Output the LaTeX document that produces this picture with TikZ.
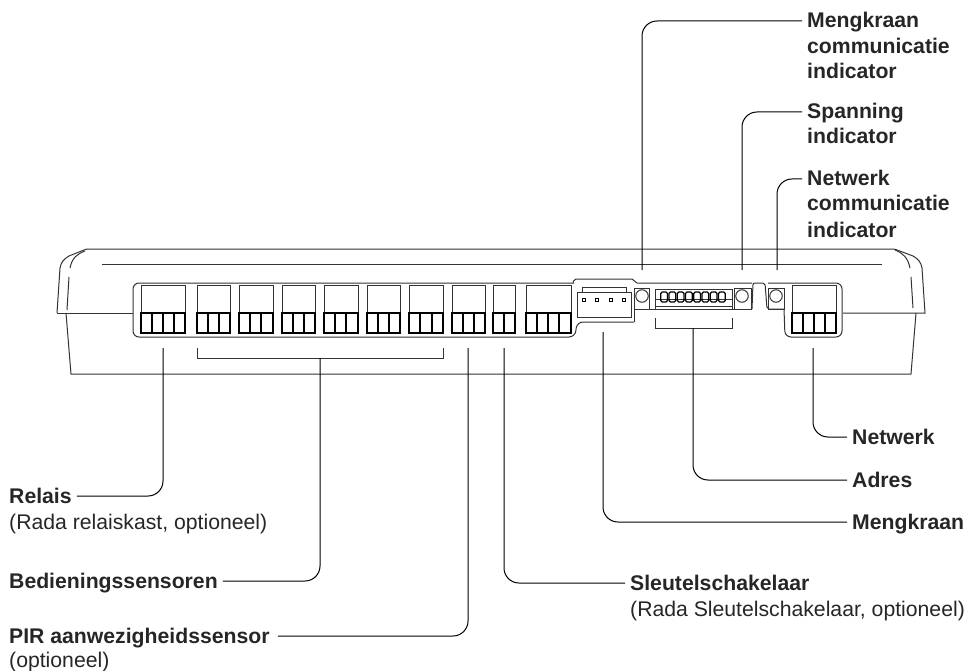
\documentclass[tikz,border=0pt]{standalone}
\usepackage{fontspec}
\setmainfont{Liberation Sans}
\usetikzlibrary{positioning}
\usetikzlibrary{calc}
\tikzstyle{part}=[black!80,line width=1pt]
\tikzstyle{term}=[black,line width=1.1pt]
\tikzstyle{taro}=[black,line width=1pt,rounded corners=15pt]
\tikzstyle{ledc}=[black!80,draw=black!80,line width=1pt,shape=circle,inner sep=0pt,minimum size=12.5pt]
\tikzstyle{dip}=[black,draw=black,line width=1.2pt,shape=rectangle,rounded corners=1.5pt,inner sep=0pt,minimum width=6.8pt,minimum height=10pt]
\tikzstyle{pin}=[draw=black,line width=1pt,shape=rectangle,inner sep=0pt,minimum size=3.5pt]
\tikzstyle{lab}=[anchor=west,inner xsep=5pt,inner ysep=0pt,text height=17pt,text depth=3pt,text=black!85,font=\fontsize{21.2}{25}\selectfont\bfseries]
\tikzstyle{sublab}=[lab,font=\fontsize{21.2}{25}\selectfont]

\begin{document}
\begin{tikzpicture}[x=1pt,y=-1pt]
	\useasboundingbox (0,0) rectangle (969,671);
	
	% Housing
	\draw[part] (57,313) -- (60,268) .. controls (61,262) and (64,259) .. (69,256) -- (84,250) .. controls (85,249.5) .. (87,249) -- (893,249) .. controls (896,249.5) .. (897,250) -- (913,256) .. controls (918,259) and (921,262) .. (922,268) -- (925,313) -- (843,313);
	\draw[part] (57,313) -- (133,313);
	\draw[part] (66,313) -- (71,374) -- (911,374) -- (916,313);
	\draw[part] (102,264) -- (882,264);
	\draw[part] (85,251) .. controls (77,254) and (72,258) .. (70,268);
	\draw[part] (69,277) -- (67,310);
	\draw[part] (895,250) .. controls (903,253) and (908,258) .. (910,268);
	\draw[part] (911,277) -- (913,308);
	
	% Tray
	\draw[part,rounded corners=6pt] (574,283) -- (133,283) -- (133,337) -- (575,337) -- (577,322) -- (634,322);
	\draw[part] (634,322) -- (634,309) -- (752,309);
	\draw[part,rounded corners=2pt] (573,283) -- (574,279) -- (634,279) -- (635,283) -- (752,283);
	\draw[part,rounded corners=2pt] (752,309) -- (753,283) -- (765,283) -- (767,309) -- (784,309);
	\draw[part,rounded corners=6pt] (768,283) -- (842,283) -- (842,337) -- (785,337) -- (784,309);
	
	% Terminals
	\draw[part] (141,285) rectangle (185,313); \draw[term] (141,313) rectangle (185,333) (152,313) -- (152,333) (163,313) -- (163,333) (174,313) -- (174,333);
	\draw[part] (197,285) rectangle (230,313); \draw[term] (197,313) rectangle (230,333) (208,313) -- (208,333) (219,313) -- (219,333);
	\draw[part] (239,285) rectangle (273,313); \draw[term] (239,313) rectangle (273,333) (250,313) -- (250,333) (261,313) -- (261,333);
	\draw[part] (282,285) rectangle (315,313); \draw[term] (282,313) rectangle (315,333) (293,313) -- (293,333) (304,313) -- (304,333);
	\draw[part] (324,285) rectangle (358,313); \draw[term] (324,313) rectangle (358,333) (335,313) -- (335,333) (346,313) -- (346,333);
	\draw[part] (367,285) rectangle (400,313); \draw[term] (367,313) rectangle (400,333) (378,313) -- (378,333) (389,313) -- (389,333);
	\draw[part] (409,285) rectangle (443,313); \draw[term] (409,313) rectangle (443,333) (420,313) -- (420,333) (432,313) -- (432,333);
	\draw[part] (452,285) rectangle (485,313); \draw[term] (452,313) rectangle (485,333) (463,313) -- (463,333) (474,313) -- (474,333);
	\draw[part] (493,285) rectangle (515,313); \draw[term] (493,313) rectangle (515,333) (504,313) -- (504,333);
	\draw[part] (526,285) rectangle (571,313); \draw[term] (526,313) rectangle (571,333) (537,313) -- (537,333) (548,313) -- (548,333) (559,313) -- (559,333);
	\draw[part] (792,285) rectangle (836,313); \draw[term] (792,313) rectangle (836,333) (803,313) -- (803,333) (814,313) -- (814,333) (825,313) -- (825,333);
	
	% Valve plug
	\draw[part] (582,292) -- (582,287) -- (626,287) -- (626,292);
	\draw[part] (577,292) rectangle (631,317);
	\node[pin] (pina) at (584,300) {};
	\node[pin] (pinb) at (597,300) {};
	\node[pin] (pinc) at (611,300) {};
	\node[pin] (pind) at (624,300) {};
	
	% Indicators
	\draw[part] (634,288) rectangle (649,309);
	\draw[part] (734,288) rectangle (751,309);
	\draw[part] (768,288) rectangle (784,309);
	\node[ledc] (ledvalve) at (642,296) {};
	\node[ledc] (ledpower) at (742,296) {};
	\node[ledc] (lednet) at (776,296) {};
	
	% Address switch
	\draw[part] (655,289) rectangle (732,309);
	\draw[part] (655,299) -- (732,299);
	\draw[part] (655,306) -- (732,306);
	\node[dip] (dipa) at (664.1,297) {};
	\node[dip] (dipb) at (672.4,297) {};
	\node[dip] (dipc) at (680.6,297) {};
	\node[dip] (dipd) at (688.9,297) {};
	\node[dip] (dipe) at (697.1,297) {};
	\node[dip] (dipf) at (705.4,297) {};
	\node[dip] (dipg) at (713.6,297) {};
	\node[dip] (diph) at (721.9,297) {};
	
	% Brackets
	\draw[part] (197,348) -- (197,358) -- (443,358) -- (443,348);
	\draw[part] (655,318) -- (655,328) -- (732,328) -- (732,318);
	
	% Left labels
	\node[lab] (relais) at (4,496) {Relais};
	\node[sublab] (relaissub) at (4,522) {(Rada relaiskast, optioneel)};
	\node[lab] (bedien) at (4,581) {Bedieningssensoren};
	\node[lab] (pir) at (4,636) {PIR aanwezigheidssensor};
	\node[sublab] (pirsub) at (4,660) {(optioneel)};
	\node[lab] (sleutel) at (625,583) {Sleutelschakelaar};
	\node[sublab] (sleutelsub) at (625,609) {(Rada Sleutelschakelaar, optioneel)};
	
	% Right labels
	\node[lab] (mengkom) at (802,21) {Mengkraan};
	\node[lab] (mengkomb) at (802,47) {communicatie};
	\node[lab] (mengkomi) at (802,72) {indicator};
	\node[lab] (span) at (802,112) {Spanning};
	\node[lab] (spani) at (802,137) {indicator};
	\node[lab] (netkom) at (802,179) {Netwerk};
	\node[lab] (netkomb) at (802,204) {communicatie};
	\node[lab] (netkomi) at (802,230) {indicator};
	\node[lab] (netwerk) at (847,437) {Netwerk};
	\node[lab] (adres) at (847,480) {Adres};
	\node[lab] (mengkraan) at (847,522) {Mengkraan};
	
	% Leaders
	\coordinate (relaisc) at (163,348);
	\coordinate (bedienc) at (320,358);
	\coordinate (pirc) at (468,348);
	\coordinate (sleutelc) at (504,348);
	\coordinate (mengkraanc) at (603,332);
	\coordinate (adresc) at (693,328);
	\coordinate (netwerkc) at (813,348);
	\coordinate (mengkomc) at (642,270);
	\coordinate (spanc) at (742,270);
	\coordinate (netkomc) at (777,270);
	\draw[taro] (relaisc) |- (relais.east);
	\draw[taro] (bedienc) |- (bedien.east);
	\draw[taro] (pirc) |- ($(pir.east) + (3,0)$);
	\draw[taro] (sleutelc) |- (sleutel.west);
	\draw[taro] (mengkraanc) |- (mengkraan.west);
	\draw[taro] (adresc) |- (adres.west);
	\draw[taro] (netwerkc) |- (netwerk.west);
	\draw[taro] (mengkomc) |- (mengkom.west);
	\draw[taro] (spanc) |- (span.west);
	\draw[taro] (netkomc) |- (netkom.west);
	
\end{tikzpicture}
\end{document}
